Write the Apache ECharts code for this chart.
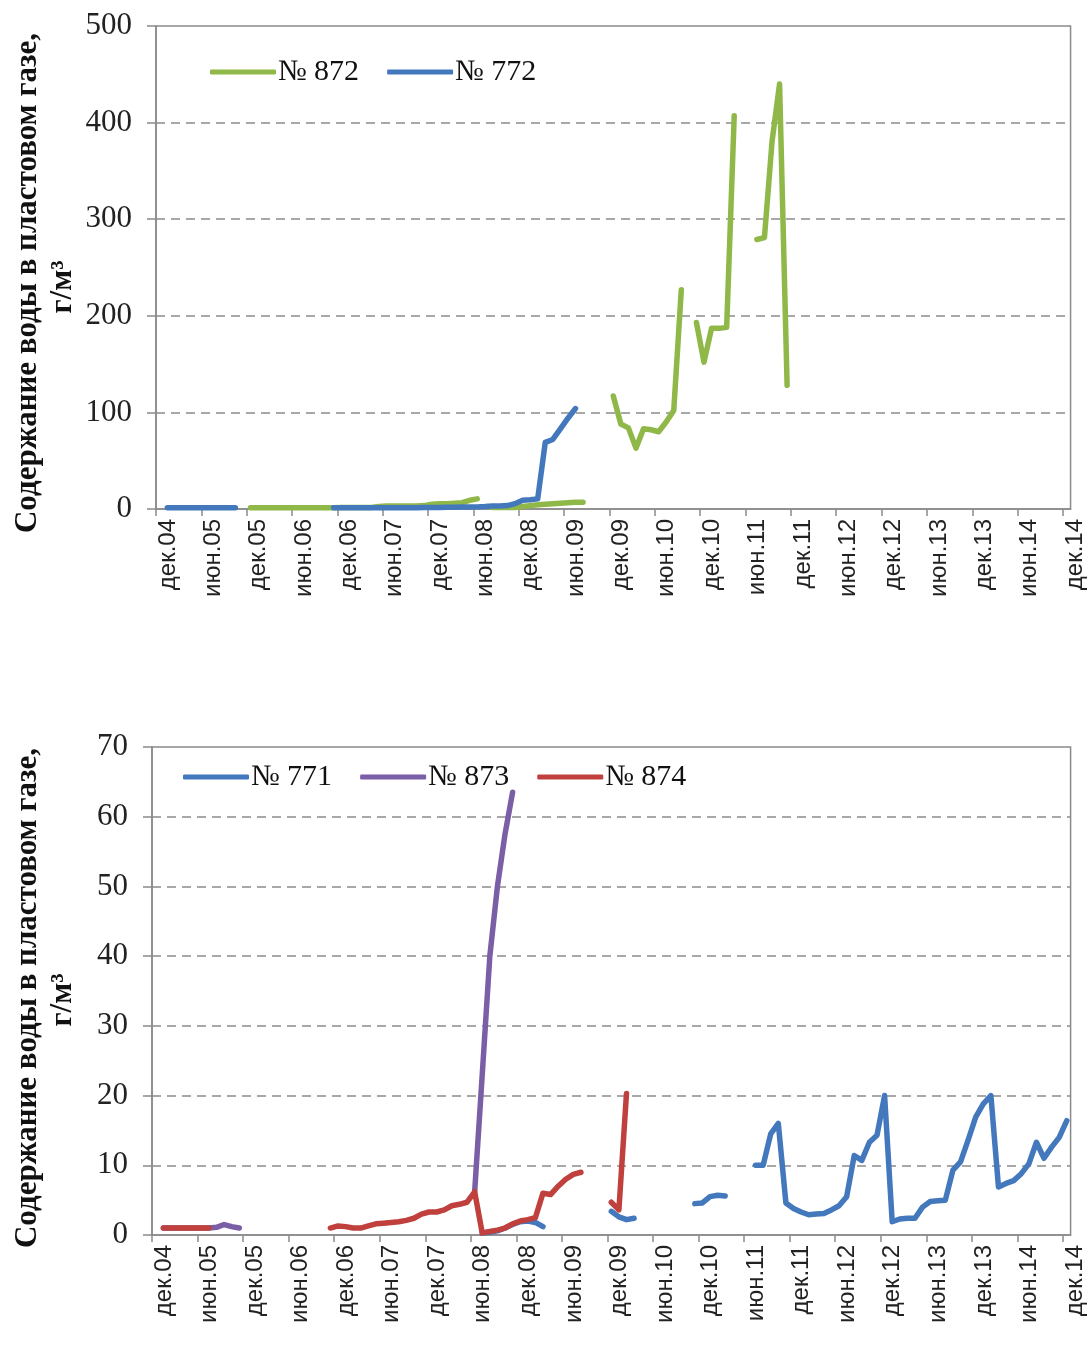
<!DOCTYPE html>
<html>
<head>
<meta charset="utf-8">
<title>Содержание воды в пластовом газе</title>
<script src="https://cdn.jsdelivr.net/npm/echarts@6/dist/echarts.min.js"></script>
<style>
  html, body { margin: 0; padding: 0; background: #ffffff; }
  #chart { width: 1087px; height: 1351px; }
</style>
</head>
<body>
<div id="chart"></div>
<script>
// Month index 0 = дек.04 ... 120 = дек.14; ticks every six months.
const tickLabels = ['дек.04', 'июн.05', 'дек.05', 'июн.06', 'дек.06', 'июн.07', 'дек.07',
  'июн.08', 'дек.08', 'июн.09', 'дек.09', 'июн.10', 'дек.10', 'июн.11', 'дек.11',
  'июн.12', 'дек.12', 'июн.13', 'дек.13', 'июн.14', 'дек.14'];

const _ = null;
const EMPTY_YEAR = [_, _, _, _, _, _, _, _, _, _, _, _];

// Upper panel, g/m3 — one row per year (дек..ноя), last row = дек.14
const well872 = [].concat(
  EMPTY_YEAR,
  [1.2, 1.2, 1.2, 1.2, 1.2, 1.2, 1.2, 1.2, 1.2, 1.2, 1.2, 1.2],
  [1.5, 1.5, 1.5, 1.5, 1.5, 2.5, 3, 3, 3, 3, 3, 3.5],
  [5, 5.5, 5.5, 6, 6.5, 9, 10.5, _, 1.5, 1.5, 1.5, 1.5],
  [2.5, 3.5, 4.5, 5, 5.5, 6, 6.5, 7, 7, _, _, _],
  [117, 88, 84, 63, 83, 82, 80, 90, 102, 227, _, 193],
  [152, 187, 187, 188, 407, _, _, 279, 281, 380, 440, 128],
  EMPTY_YEAR, EMPTY_YEAR, EMPTY_YEAR,
  [_]
);
const well772 = [].concat(
  [_, 1.2, 1.2, 1.2, 1.2, 1.2, 1.2, 1.2, 1.2, 1.2, 1.2, _],
  [_, _, _, _, _, _, _, _, _, _, _, 1.2],
  [1.2, 1.2, 1.2, 1.2, 1.2, 1.2, 1.2, 1.3, 1.3, 1.3, 1.3, 1.5],
  [1.5, 1.6, 1.8, 1.9, 2.0, 2.0, 2.2, 2.5, 3.0, 3.0, 3.5, 5.5],
  [9.0, 9.5, 10.5, 69, 72, 83, 94, 104, _, _, _, _],
  EMPTY_YEAR, EMPTY_YEAR, EMPTY_YEAR, EMPTY_YEAR, EMPTY_YEAR,
  [_]
);

// Lower panel, g/m3
const well771 = [].concat(
  EMPTY_YEAR, EMPTY_YEAR, EMPTY_YEAR,
  [_, _, _, _, _, _, _, 0.3, 0.4, 0.6, 1.0, 1.5],
  [1.9, 2.0, 1.8, 1.2, _, _, _, _, _, _, _, _],
  [3.4, 2.6, 2.2, 2.4, _, _, _, _, _, _, _, 4.5],
  [4.6, 5.5, 5.7, 5.6, _, _, _, 10.0, 10.0, 14.5, 16.0, 4.6],
  [3.8, 3.3, 2.9, 3.0, 3.1, 3.6, 4.2, 5.5, 11.4, 10.7, 13.3, 14.3],
  [20.0, 1.9, 2.3, 2.4, 2.4, 4.0, 4.8, 4.9, 5.0, 9.3, 10.5, 13.6],
  [16.9, 18.8, 20.0, 6.9, 7.4, 7.8, 8.8, 10.2, 13.3, 11.0, 12.6, 14.0],
  [16.4]
);
const well873 = [].concat(
  [_, 1.0, 1.0, 1.0, 1.0, 1.0, 1.0, 1.0, 1.1, 1.5, 1.2, 1.0],
  EMPTY_YEAR, EMPTY_YEAR,
  [_, _, _, _, _, _, 6.2, 23, 40, 50, 57.5, 63.5],
  EMPTY_YEAR, EMPTY_YEAR, EMPTY_YEAR, EMPTY_YEAR, EMPTY_YEAR, EMPTY_YEAR,
  [_]
);
const well874 = [].concat(
  [_, 1.0, 1.0, 1.0, 1.0, 1.0, 1.0, 1.0, _, _, _, _],
  [_, _, _, _, _, _, _, _, _, _, _, 1.0],
  [1.3, 1.2, 1.0, 1.0, 1.3, 1.6, 1.7, 1.8, 1.9, 2.1, 2.4, 3.0],
  [3.3, 3.3, 3.6, 4.2, 4.4, 4.7, 6.2, 0.3, 0.5, 0.7, 1.0, 1.6],
  [2.0, 2.2, 2.5, 6.0, 5.8, 7.0, 8.0, 8.7, 9.0, _, _, _],
  [4.7, 3.6, 20.3, _, _, _, _, _, _, _, _, _],
  EMPTY_YEAR, EMPTY_YEAR, EMPTY_YEAR, EMPTY_YEAR,
  [_]
);

const yTitle = 'Содержание воды в пластовом газе,';
const yUnit = 'г/м\u00B3';

// readings are taken mid-month
function toPoints(values) {
  return values.map((v, i) => [i + 0.5, v == null ? '-' : v]);
}

const tickValues = tickLabels.map((_, i) => i * 6);
const SERIF = '"Liberation Serif", "Times New Roman", serif';
const SANS = '"Liberation Sans", Arial, sans-serif';
const AXIS_GRAY = '#8a8a8a';

function xAxisFor(gridIndex) {
  return {
    type: 'value', gridIndex: gridIndex, min: 0, max: 121, interval: 6,
    axisLine: { show: true, onZero: false, lineStyle: { color: AXIS_GRAY, width: 1.5 } },
    axisTick: { show: true, length: 7, customValues: tickValues, lineStyle: { color: AXIS_GRAY, width: 1.5 } },
    axisLabel: {
      customValues: tickValues, rotate: 90, margin: 10,
      verticalAlign: 'top',
      fontFamily: SANS, fontSize: 24, color: '#222',
      formatter: v => tickLabels[Math.round(v / 6)] || ''
    },
    splitLine: { show: false }
  };
}
function yAxisFor(gridIndex, max, interval) {
  return {
    type: 'value', gridIndex: gridIndex, min: 0, max: max, interval: interval,
    axisLine: { show: true, lineStyle: { color: AXIS_GRAY, width: 1.5 } },
    axisTick: { show: true, length: 9, lineStyle: { color: AXIS_GRAY, width: 1.5 } },
    axisLabel: { margin: 24, fontFamily: SERIF, fontSize: 31, color: '#222' },
    splitLine: {
      show: true, showMinLine: false, showMaxLine: false,
      lineStyle: { color: '#8c8c8c', type: [9, 6], width: 1.5 }
    }
  };
}
function lineSeries(name, values, color, axisIndex) {
  return {
    name: name, type: 'line', xAxisIndex: axisIndex, yAxisIndex: axisIndex,
    data: toPoints(values), showSymbol: false, symbol: 'none', connectNulls: false,
    lineStyle: { color: color, width: 5.5, cap: 'round', join: 'round' },
    itemStyle: { color: color }, animation: false, silent: true
  };
}
function legendFor(names, left, top) {
  return {
    data: names, left: left, top: top, orient: 'horizontal',
    icon: 'roundRect', itemWidth: 66, itemHeight: 5, itemGap: 28,
    textStyle: { fontFamily: SERIF, fontSize: 30, color: '#111', padding: [0, 0, 0, -3] },
    selectedMode: false
  };
}
function titleText(text, x, y) {
  return {
    type: 'text', x: x, y: y, rotation: Math.PI / 2,
    style: {
      text: text, font: 'bold 31px ' + SERIF, fill: '#111',
      align: 'center', verticalAlign: 'middle'
    }
  };
}

const chart = echarts.init(document.getElementById('chart'), null, { renderer: 'canvas' });
chart.setOption({
  backgroundColor: '#ffffff',
  animation: false,
  grid: [
    { left: 156, top: 26, width: 918, height: 483, show: true, borderColor: AXIS_GRAY, borderWidth: 1.5, containLabel: false },
    { left: 152, top: 747, width: 921, height: 488, show: true, borderColor: AXIS_GRAY, borderWidth: 1.5, containLabel: false }
  ],
  xAxis: [xAxisFor(0), xAxisFor(1)],
  yAxis: [yAxisFor(0, 500, 100), yAxisFor(1, 70, 10)],
  legend: [
    legendFor(['№ 872', '№ 772'], 205, 52),
    legendFor(['№ 771', '№ 873', '№ 874'], 178, 757)
  ],
  series: [
    lineSeries('№ 872', well872, '#8fb849', 0),
    lineSeries('№ 772', well772, '#4478bd', 0),
    lineSeries('№ 771', well771, '#4478bd', 1),
    lineSeries('№ 873', well873, '#7b5fa6', 1),
    lineSeries('№ 874', well874, '#c0403d', 1)
  ],
  graphic: [
    titleText(yTitle, 28, 283),
    titleText(yUnit, 63, 287),
    titleText(yTitle, 28, 998),
    titleText(yUnit, 63, 1000)
  ]
});
</script>
</body>
</html>
